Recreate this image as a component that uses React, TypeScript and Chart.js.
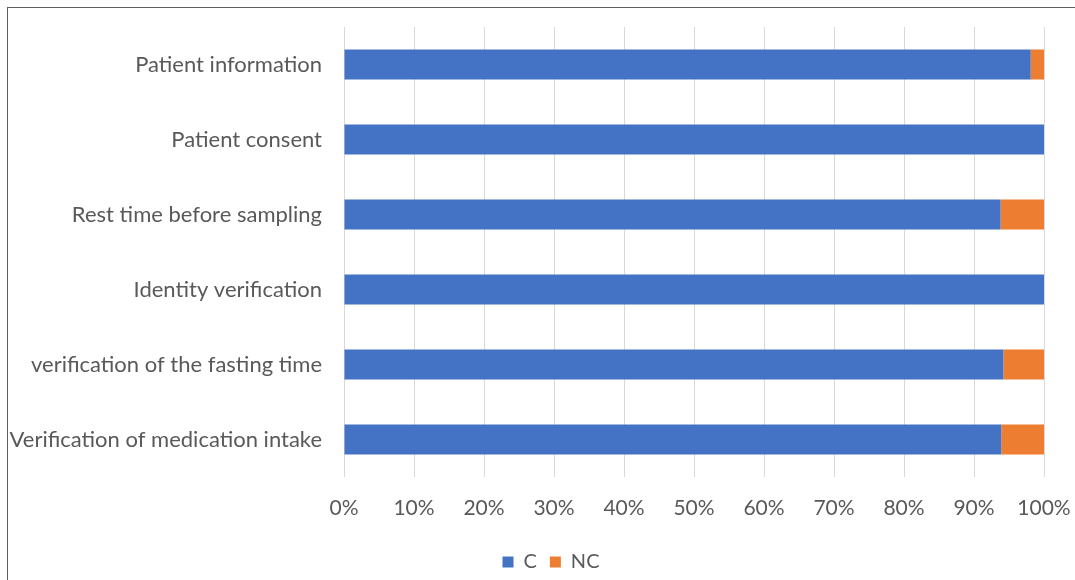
import React, { useEffect, useRef } from "react";
import { Chart, registerables } from "chart.js";

Chart.register(...registerables);

// Checklist items, top to bottom
const categories = [
  "Patient information",
  "Patient consent",
  "Rest time before sampling",
  "Identity verification",
  "verification of the fasting time",
  "Verification of medication intake",
];

// Share of compliant (C) and non-compliant (NC) observations, in percent
const compliant = [98.1, 100, 93.8, 100, 94.2, 93.9];
const nonCompliant = [1.9, 0, 6.2, 0, 5.8, 6.1];

const xTicks = [0, 10, 20, 30, 40, 50, 60, 70, 80, 90, 100];

const FONT = "Lato, 'Open Sans', sans-serif";
const TEXT = "#595959";

const CANVAS_W = 1068;
const CANVAS_H = 574;

// Nudges the bottom legend a little to the right of the canvas centre
const legendShift = {
  id: "legendShift",
  afterLayout(chart: any) {
    const lg = chart.legend;
    if (!lg) return;
    lg.left += 25;
    lg.right += 25;
    if (lg.legendHitBoxes) {
      lg.legendHitBoxes.forEach((b: any) => {
        b.left += 25;
      });
    }
  },
};

export default function App() {
  const canvasRef = useRef<HTMLCanvasElement | null>(null);

  useEffect(() => {
    const canvas = canvasRef.current;
    if (!canvas) return;
    const chart = new Chart(canvas, {
      type: "bar",
      data: {
        labels: categories,
        datasets: [
          {
            label: "C",
            data: compliant,
            backgroundColor: "#4472C4",
            borderWidth: 0,
            barPercentage: 0.5,
            categoryPercentage: 0.8,
          },
          {
            label: "NC",
            data: nonCompliant,
            backgroundColor: "#ED7D31",
            borderWidth: 0,
            barPercentage: 0.5,
            categoryPercentage: 0.8,
          },
        ],
      },
      plugins: [legendShift],
      options: {
        indexAxis: "y",
        responsive: false,
        animation: false,
        layout: { padding: { top: 19, right: 32, left: 0, bottom: 0 } },
        scales: {
          x: {
            stacked: true,
            min: 0,
            max: 100,
            afterBuildTicks: (scale: any) => {
              scale.ticks = xTicks.map((v) => ({ value: v }));
            },
            afterFit: (scale: any) => {
              scale.height = 62;
              scale.paddingLeft = 0;
              scale.paddingRight = 0;
            },
            grid: {
              color: "#d9d9d9",
              lineWidth: 1,
              drawTicks: false,
            },
            border: { display: false },
            ticks: {
              padding: 19,
              color: TEXT,
              font: { family: FONT, size: 21 },
              callback: (v: any) => `${v}%`,
            },
          },
          y: {
            stacked: true,
            afterFit: (scale: any) => {
              scale.width = 336;
              scale.paddingTop = 0;
              scale.paddingBottom = 0;
            },
            grid: { display: false, drawTicks: false },
            border: { display: false },
            ticks: {
              padding: 22,
              color: TEXT,
              font: { family: FONT, size: 22 },
            },
          },
        },
        plugins: {
          legend: {
            position: "bottom",
            labels: {
              boxWidth: 11,
              boxHeight: 11,
              padding: 13,
              color: TEXT,
              font: { family: FONT, size: 20 },
            },
          },
          tooltip: { enabled: false },
        },
      },
    });
    return () => chart.destroy();
  }, []);

  return (
    <div
      style={{
        position: "absolute",
        left: 7,
        top: 7,
        borderLeft: "1px solid #5f5f5f",
        borderTop: "1px solid #5f5f5f",
        width: CANVAS_W,
        height: 573,
        overflow: "hidden",
        background: "#fff",
      }}
    >
      <canvas
        ref={canvasRef}
        width={CANVAS_W}
        height={CANVAS_H}
        style={{ display: "block" }}
      />
    </div>
  );
}
